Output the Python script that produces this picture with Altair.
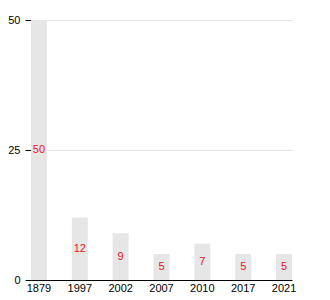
import altair as alt
import pandas as pd

years = ["1879", "1997", "2002", "2007", "2010", "2017", "2021"]
values = [50, 12, 9, 5, 7, 5, 5]

df = pd.DataFrame({"year": years, "value": values})
df["half"] = df["value"] / 2

x = alt.X("year:N", sort=years, title=None,
          scale=alt.Scale(paddingInner=0.61, paddingOuter=0),
          axis=alt.Axis(labelAngle=0, ticks=False, domainColor="black",
                        labelColor="black", labelFont="Liberation Sans",
                        labelFontSize=11, labelPadding=2))

bars = alt.Chart(df).mark_bar(color="#e6e6e6").encode(
    x=x,
    y=alt.Y("value:Q", title=None,
            scale=alt.Scale(domain=[0, 50]),
            axis=alt.Axis(values=[0, 25, 50], domainColor="black",
                          tickColor="black", labelColor="black",
                          labelFont="Liberation Sans", labelFontSize=11,
                          gridColor="#e6e6e6", tickSize=6, labelPadding=5)),
)

labels = alt.Chart(df).mark_text(color="#e8141c", font="Liberation Sans",
                                 fontSize=11, baseline="middle").encode(
    x=alt.X("year:N", sort=years),
    y=alt.Y("half:Q"),
    text=alt.Text("value:Q"),
)

chart = alt.layer(bars, labels).properties(
    width=261, height=260,
    autosize=alt.AutoSizeParams(type="none"),
    padding={"left": 31, "top": 20, "right": 38, "bottom": 20},
).configure_view(stroke=None).configure_axis(domainWidth=1)

chart.save("out.html", embed_options={"renderer": "svg", "actions": False})
